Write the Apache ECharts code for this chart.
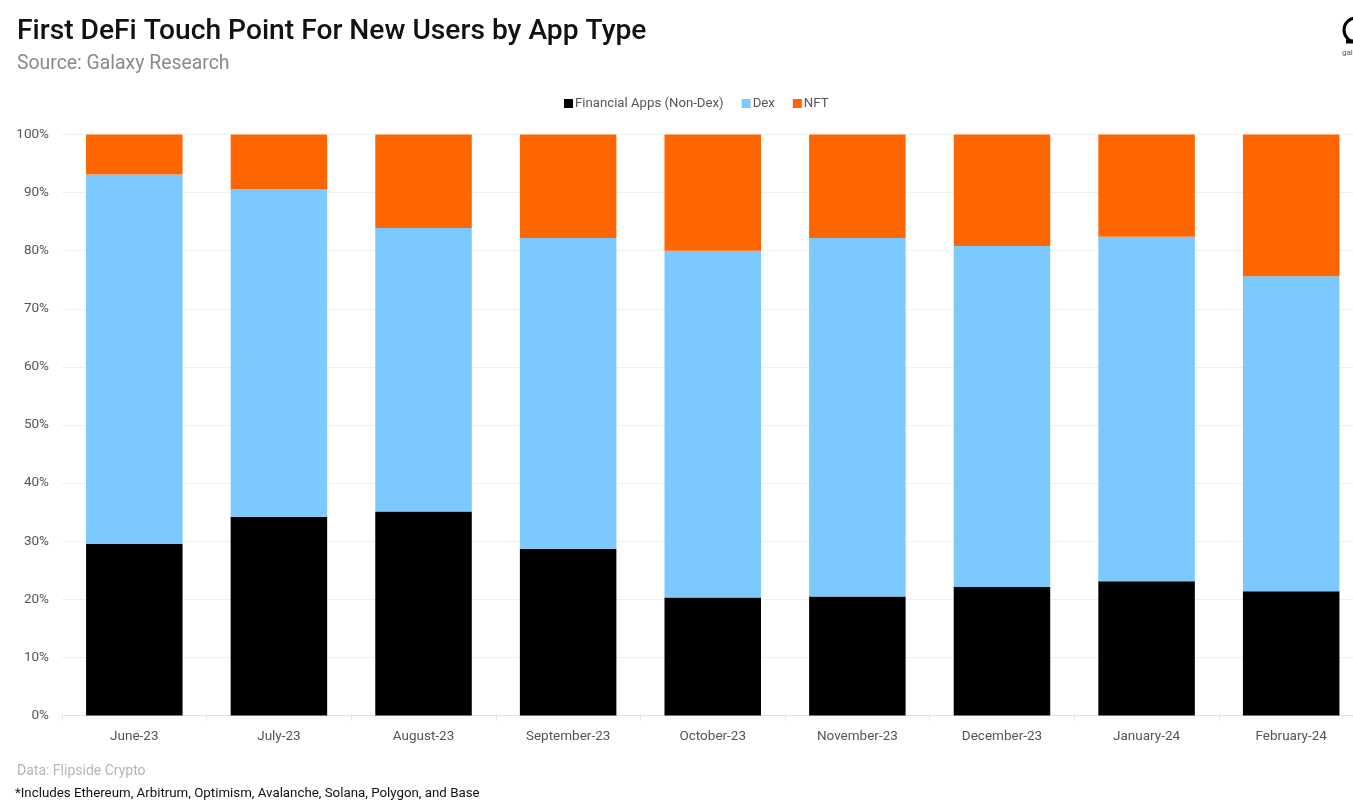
<!DOCTYPE html>
<html>
<head>
<meta charset="utf-8">
<script src="https://cdn.jsdelivr.net/npm/echarts@6/dist/echarts.min.js"></script>
<style>
html, body { margin: 0; padding: 0; background: #fff; }
#chart { width: 1353px; height: 808px; }
</style>
</head>
<body>
<div id="chart"></div>
<script>
var months = ['June-23', 'July-23', 'August-23', 'September-23', 'October-23', 'November-23', 'December-23', 'January-24', 'February-24'];
var financial = [29.5, 34.2, 35.1, 28.7, 20.3, 20.5, 22.1, 23.1, 21.4];
var dex = [63.6, 56.4, 48.8, 53.5, 59.7, 61.7, 58.7, 59.3, 54.2];
var nft = [6.9, 9.4, 16.1, 17.8, 20.0, 17.8, 19.2, 17.6, 24.4];

var font = 'Roboto';
var chart = echarts.init(document.getElementById('chart'));

chart.setOption({
    backgroundColor: '#fff',
    animation: false,
    textStyle: { fontFamily: font },
    title: {
        text: 'First DeFi Touch Point For New Users by App Type',
        subtext: 'Source: Galaxy Research',
        left: 12,
        top: 13,
        itemGap: 9,
        textStyle: { fontFamily: font, fontSize: 28.2, fontWeight: 500, color: '#111' },
        subtextStyle: { fontFamily: font, fontSize: 19.4, color: '#8a8a8a' }
    },
    legend: {
        top: 92,
        left: 559,
        itemWidth: 9,
        itemHeight: 9,
        itemGap: 18,
        icon: 'rect',
        textStyle: { fontFamily: font, fontSize: 13.2, color: '#555', padding: [0, 0, 0, -3] },
        data: ['Financial Apps (Non-Dex)', 'Dex', 'NFT']
    },
    // the last category runs off the right edge of the canvas in the original
    grid: { left: 62, top: 134.5, right: -10.5, height: 581, containLabel: false, outerBoundsMode: 'none' },
    xAxis: {
        type: 'category',
        data: months,
        axisLine: { lineStyle: { color: '#e3e3e3' } },
        axisTick: { show: true, length: 5, lineStyle: { color: '#e3e3e3' } },
        axisLabel: { color: '#555', fontSize: 13.5, margin: 14, fontFamily: font }
    },
    yAxis: {
        type: 'value',
        min: 0,
        max: 100,
        interval: 10,
        axisLine: { show: false },
        axisTick: { show: false },
        splitLine: { lineStyle: { color: '#efefef' } },
        axisLabel: { color: '#555', fontSize: 13.5, margin: 13, formatter: '{value}%', fontFamily: font }
    },
    series: [
        { name: 'Financial Apps (Non-Dex)', type: 'bar', stack: 'share', barWidth: 96.5, data: financial, itemStyle: { color: '#000' } },
        { name: 'Dex', type: 'bar', stack: 'share', barWidth: 96.5, data: dex, itemStyle: { color: '#7cc9ff' } },
        { name: 'NFT', type: 'bar', stack: 'share', barWidth: 96.5, data: nft, itemStyle: { color: '#ff6600' } }
    ],
    graphic: [
        { type: 'text', left: 17, top: 764, style: { text: 'Data: Flipside Crypto', font: '14px ' + font, fill: '#b5b5b5' } },
        { type: 'text', left: 15, top: 787, style: { text: '*Includes Ethereum, Arbitrum, Optimism, Avalanche, Solana, Polygon, and Base', font: '13.3px ' + font, fill: '#111' } },
        // logo is cut off by the right edge in the original
        { type: 'arc', shape: { cx: 1356, cy: 30, r: 12, startAngle: Math.PI * 0.5, endAngle: Math.PI * 1.5 }, style: { stroke: '#000', lineWidth: 3, fill: null } },
        { type: 'rect', shape: { x: 1346, y: 39.5, width: 7, height: 4 }, style: { fill: '#000' } },
        { type: 'text', left: 1342, top: 49, style: { text: 'gal', font: '8px ' + font, fill: '#555' } }
    ]
});
</script>
</body>
</html>
